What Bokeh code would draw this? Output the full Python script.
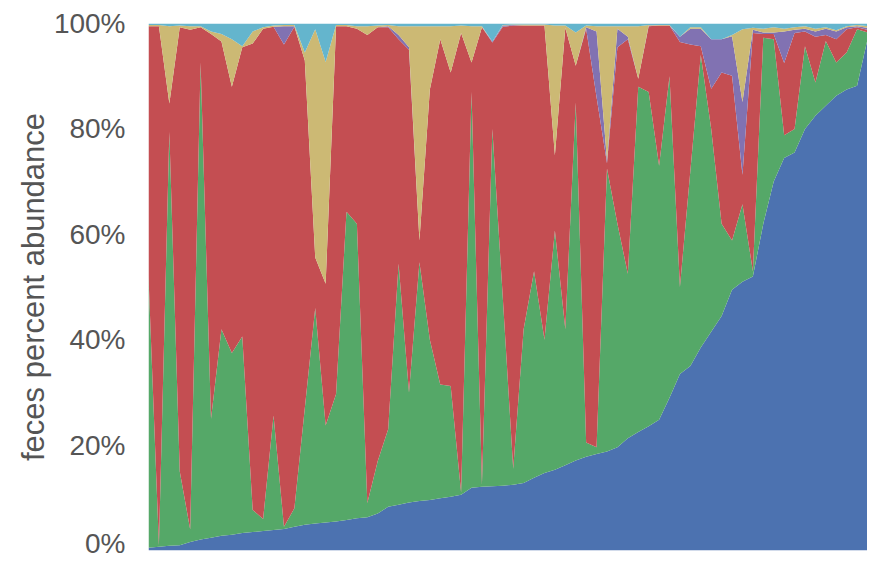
from bokeh.plotting import figure
from bokeh.models import ColumnDataSource, Range1d, FixedTicker, PrintfTickFormatter
from bokeh.embed import file_html
from bokeh.resources import INLINE

# sample index (samples ordered by the blue taxon)
samples = list(range(70))

# percent abundance of each taxon per sample
blue = [0.5, 0.7, 0.9, 1.0, 1.6, 2.1, 2.4, 2.8, 3.0, 3.3,
        3.5, 3.7, 3.9, 4.1, 4.5, 4.9, 5.1, 5.3, 5.5, 5.8,
        6.1, 6.3, 7.0, 8.3, 8.7, 9.1, 9.4, 9.6, 9.9, 10.2,
        10.6, 11.9, 12.1, 12.2, 12.3, 12.5, 12.8, 13.8, 14.7, 15.3,
        16.2, 17.1, 17.8, 18.3, 18.8, 19.6, 21.3, 22.5, 23.6, 24.8,
        29.0, 33.5, 35.0, 38.5, 41.5, 44.5, 49.5, 51.0, 52.0, 62.0,
        70.0, 74.5, 75.5, 80.0, 82.5, 84.4, 86.3, 87.5, 88.2, 97.0]
green = [51.5, 0.3, 78.5, 14.0, 2.4, 90.5, 22.6, 39.2, 34.5, 37.3,
         4.2, 2.3, 21.7, 0.4, 3.5, 22.1, 40.9, 18.4, 24.2, 58.5,
         55.9, 2.7, 10.0, 14.7, 45.7, 20.9, 45.3, 30.4, 21.6, 21.0,
         0.4, 75.1, 0.5, 67.8, 35.7, 3.0, 29.2, 39.2, 25.3, 45.4,
         25.8, 67.9, 2.7, 1.3, 53.7, 42.4, 31.2, 65.5, 63.4, 48.2,
         61.0, 16.5, 37.0, 55.5, 38.5, 17.5, 9.3, 14.7, 1.0, 35.3,
         27.0, 4.3, 4.5, 15.7, 6.3, 12.3, 6.3, 7.0, 10.7, 1.3]
red = [47.5, 98.5, 5.4, 84.3, 94.8, 6.7, 73.0, 54.6, 50.5, 54.9,
       88.5, 93.0, 73.8, 91.5, 91.4, 66.0, 9.6, 26.9, 69.8, 35.2,
       37.0, 88.8, 82.3, 76.3, 42.6, 65.0, 4.1, 47.5, 65.5, 59.5,
       87.2, 5.6, 86.7, 16.4, 51.4, 84.1, 57.6, 46.6, 59.6, 14.3,
       57.2, 7.0, 78.5, 66.4, 1.0, 33.5, 44.5, 1.5, 12.5, 26.6,
       9.6, 46.5, 24.0, 1.7, 7.6, 28.7, 31.3, 5.6, 45.2, 0.7,
       1.0, 13.7, 18.2, 2.8, 8.7, 1.1, 4.4, 4.4, 0.4, 0.5]
purple = [0.0, 0.0, 0.0, 0.0, 0.0, 0.0, 0.0, 0.0, 0.0, 0.0,
          0.0, 0.0, 0.0, 3.5, 0.1, 0.0, 0.0, 0.0, 0.0, 0.0,
          0.0, 0.0, 0.0, 0.2, 0.8, 0.5, 0.0, 0.0, 0.0, 0.0,
          0.0, 0.0, 0.0, 0.2, 0.2, 0.1, 0.0, 0.0, 0.0, 0.0,
          0.0, 0.0, 0.3, 12.5, 0.5, 3.5, 0.5, 0.0, 0.1, 0.0,
          0.0, 1.0, 3.0, 3.3, 9.4, 6.3, 7.5, 13.8, 0.6, 0.3,
          0.3, 6.0, 0.6, 0.5, 1.0, 1.2, 1.5, 0.4, 0.2, 0.4]
yellow = [0.2, 0.2, 14.7, 0.3, 0.7, 0.2, 0.5, 1.4, 9.0, 0.2,
          2.3, 0.3, 0.2, 0.2, 0.2, 1.5, 43.3, 42.1, 0.2, 0.2,
          0.5, 1.7, 0.3, 0.2, 1.7, 4.0, 40.7, 12.0, 2.5, 8.8,
          1.4, 6.9, 0.2, 0.0, 0.1, 0.1, 0.2, 0.2, 0.2, 24.6,
          0.4, 6.3, 0.3, 1.0, 25.5, 0.5, 2.0, 10.0, 0.1, 0.1,
          0.1, 0.0, 0.3, 0.3, 0.0, 0.0, 0.2, 13.8, 0.4, 0.7,
          1.0, 0.5, 0.5, 0.5, 0.5, 0.3, 0.2, 0.2, 0.2, 0.3]
cyan = [0.3, 0.3, 0.5, 0.4, 0.5, 0.5, 1.5, 2.0, 3.0, 4.3,
        1.5, 0.7, 0.4, 0.3, 0.3, 5.5, 1.1, 7.3, 0.3, 0.3,
        0.5, 0.5, 0.4, 0.3, 0.5, 0.5, 0.5, 0.5, 0.5, 0.5,
        0.4, 0.5, 0.5, 3.4, 0.3, 0.2, 0.2, 0.2, 0.2, 0.4,
        0.4, 1.7, 0.4, 0.5, 0.5, 0.5, 0.5, 0.5, 0.3, 0.3,
        0.3, 2.5, 0.7, 0.7, 3.0, 3.0, 2.2, 1.1, 0.8, 1.0,
        0.7, 1.0, 0.7, 0.5, 1.0, 0.7, 1.3, 0.5, 0.3, 0.5]

y_ticks = [0, 20, 40, 60, 80, 100]
series_names = ["blue", "green", "red", "purple", "yellow", "cyan"]
series_colors = ["#4C72B0", "#55A868", "#C44E52", "#8172B2", "#CCB974", "#64B5CD"]

source = ColumnDataSource(dict(x=samples, blue=blue, green=green, red=red,
                               purple=purple, yellow=yellow, cyan=cyan))

p = figure(width=867, height=558,
           x_range=Range1d(samples[0], samples[-1]), y_range=Range1d(0, 100),
           output_backend="svg", toolbar_location=None,
           min_border_left=148, min_border_right=0,
           min_border_top=23, min_border_bottom=8)

p.varea_stack(stackers=series_names, x="x", color=series_colors, source=source)

p.xaxis.visible = False
p.grid.visible = False
p.outline_line_color = None

ax = p.yaxis[0]
ax.ticker = FixedTicker(ticks=y_ticks)
ax.formatter = PrintfTickFormatter(format="%d%%")
ax.axis_line_color = None
ax.major_tick_line_color = None
ax.minor_tick_line_color = None
ax.major_label_standoff = 17
ax.major_label_text_font = "Liberation Sans"
ax.major_label_text_font_size = "28px"
ax.major_label_text_color = "#555555"
ax.axis_label = "feces percent abundance"
ax.axis_label_text_font = "Liberation Sans"
ax.axis_label_text_font_size = "31px"
ax.axis_label_text_font_style = "normal"
ax.axis_label_text_color = "#555555"
ax.axis_label_standoff = 0

open("out.html", "w").write(file_html(p, INLINE))
